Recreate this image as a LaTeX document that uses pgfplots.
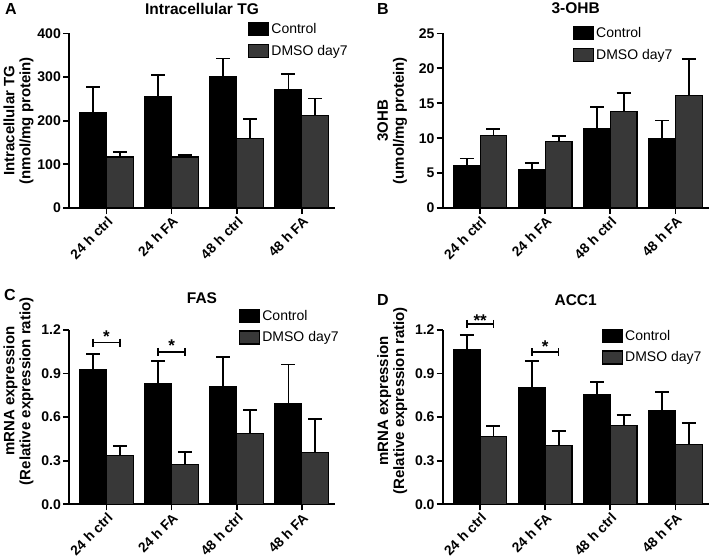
\documentclass[border=0pt]{standalone}
\usepackage{fontspec}
\setmainfont{Liberation Sans}
\usepackage{pgfplots}
\pgfplotsset{compat=1.18}
\definecolor{bargray}{HTML}{383838}

% bars sit at group index -/+ 0.205 (Control left, DMSO right)
\pgfplotsset{
  panel/.style={
    scale only axis, width=266pt, height=174.5pt,
    axis lines=left, axis line style={-, line width=1.8pt},
    clip=false,
    xmin=-0.575, xmax=3.51, ymin=0,
    xtick={0,1,2,3}, xticklabels={24 h ctrl,24 h FA,48 h ctrl,48 h FA},
    tick align=outside, major tick length=6pt,
    tick style={line width=1.8pt, black},
    xticklabel style={rotate=45, anchor=north east, inner sep=1pt, font=\fontsize{13.8}{15}\selectfont\bfseries},
    yticklabel style={font=\fontsize{14}{15}\selectfont\bfseries, inner sep=2pt},
    /pgf/number format/assume math mode=true,
    ylabel style={at={(axis description cs:-0.19,0.5)}, anchor=center, align=center,
      font=\fontsize{15}{16}\selectfont\bfseries},
    title style={at={(axis description cs:0.5,1)}, anchor=center, font=\fontsize{15.5}{17}\selectfont\bfseries},
    legend style={draw=none, fill=none, anchor=north west, inner sep=0pt, row sep=6pt,
      font=\fontsize{14}{16}\selectfont},
    legend cell align=left,
    legend image code/.code={\draw[##1,/tikz/.cd,bar shift=0pt] (0pt,-6.5pt) rectangle (20pt,6.5pt);},
  },
  ctrl/.style={ybar, bar width=0.41, bar shift=0pt, fill=black, draw=black, line width=1.2pt},
  dmso/.style={ybar, bar width=0.41, bar shift=0pt, fill=bargray, draw=black, line width=1.2pt},
  bracket/.style={black, line width=1.6pt, mark=|, mark size=4pt, forget plot},
}
\newcommand{\errs}{error bars/.cd, y dir=plus, y explicit,
  error bar style={line width=1.8pt, black, solid},
  error mark options={rotate=90, line width=1.8pt, black, mark size=7pt}}

\begin{document}
\begin{tikzpicture}
\useasboundingbox (0pt,0pt) rectangle (709pt,558pt);

% A
\begin{axis}[panel, at={(69pt,350pt)}, anchor=south west,
  ymax=400, ytick={0,100,200,300,400},
  ylabel={Intracellular TG\\(nmol/mg protein)},
  title={Intracellular TG}, title style={yshift=19pt},
  legend style={at={(axis description cs:0.673,1.07)}}]
\addplot[ctrl, error bars/.cd, y dir=plus, y explicit, error bar style={line width=1.8pt, black, solid}, error mark options={rotate=90, line width=1.8pt, black, mark size=7pt}]
  coordinates {(-0.205,218) +- (0,59.7) (0.795,254.8) +- (0,49.7) (1.795,300.7) +- (0,42.1) (2.795,272.4) +- (0,35.2)};
\addlegendentry{Control}
\addplot[dmso, error bars/.cd, y dir=plus, y explicit, error bar style={line width=1.8pt, black, solid}, error mark options={rotate=90, line width=1.8pt, black, mark size=7pt}]
  coordinates {(0.205,117) +- (0,11.5) (1.205,117) +- (0,4) (2.205,158.4) +- (0,45.1) (3.205,212.7) +- (0,38.3)};
\addlegendentry{DMSO day7}
\end{axis}

% B
\begin{axis}[panel, at={(442.7pt,350pt)}, anchor=south west,
  ymax=25, ytick={0,5,10,15,20,25},
  ylabel={3OHB\\(umol/mg protein)},
  title={3-OHB}, title style={yshift=19pt},
  legend style={at={(axis description cs:0.489,1.048)}}]
\addplot[ctrl, error bars/.cd, y dir=plus, y explicit, error bar style={line width=1.8pt, black, solid}, error mark options={rotate=90, line width=1.8pt, black, mark size=7pt}]
  coordinates {(-0.205,6.12) +- (0,0.96) (0.795,5.5) +- (0,0.96) (1.795,11.43) +- (0,3.02) (2.795,9.95) +- (0,2.59)};
\addlegendentry{Control}
\addplot[dmso, error bars/.cd, y dir=plus, y explicit, error bar style={line width=1.8pt, black, solid}, error mark options={rotate=90, line width=1.8pt, black, mark size=7pt}]
  coordinates {(0.205,10.33) +- (0,0.96) (1.205,9.57) +- (0,0.72) (2.205,13.88) +- (0,2.58) (3.205,16.08) +- (0,5.26)};
\addlegendentry{DMSO day7}
\end{axis}

% C
\begin{axis}[panel, at={(69pt,53.7pt)}, anchor=south west,
  ymax=1.2, ytick={0,0.3,0.6,0.9,1.2},
  yticklabel style={/pgf/number format/.cd, fixed, fixed zerofill, precision=1},
  ylabel={mRNA expression\\(Relative expression ratio)},
  ylabel style={at={(axis description cs:-0.19,0.648)}},
  title={FAS}, title style={yshift=26pt},
  legend style={at={(axis description cs:0.639,1.126)}}]
\addplot[ctrl, error bars/.cd, y dir=plus, y explicit, error bar style={line width=1.8pt, black, solid}, error mark options={rotate=90, line width=1.8pt, black, mark size=7pt}]
  coordinates {(-0.205,0.924) +- (0,0.108) (0.795,0.828) +- (0,0.156) (1.795,0.810) +- (0,0.201) (2.795,0.695) +- (0,0.266)};
\addlegendentry{Control}
\addplot[dmso, error bars/.cd, y dir=plus, y explicit, error bar style={line width=1.8pt, black, solid}, error mark options={rotate=90, line width=1.8pt, black, mark size=7pt}]
  coordinates {(0.205,0.335) +- (0,0.066) (1.205,0.273) +- (0,0.087) (2.205,0.489) +- (0,0.160) (3.205,0.356) +- (0,0.229)};
\addlegendentry{DMSO day7}
\addplot[bracket] coordinates {(-0.205,1.112) (0.205,1.112)}
  node[pos=0.5, anchor=base, yshift=0pt, font=\fontsize{17}{17}\selectfont\bfseries] {*};
\addplot[bracket] coordinates {(0.795,1.048) (1.205,1.048)}
  node[pos=0.5, anchor=base, yshift=0pt, font=\fontsize{17}{17}\selectfont\bfseries] {*};
\end{axis}

% D
\begin{axis}[panel, at={(442.7pt,53.7pt)}, anchor=south west,
  ymax=1.2, ytick={0,0.3,0.6,0.9,1.2},
  yticklabel style={/pgf/number format/.cd, fixed, fixed zerofill, precision=1},
  ylabel={mRNA expression\\(Relative expression ratio)},
  ylabel style={at={(axis description cs:-0.19,0.593)}},
  title={ACC1}, title style={yshift=24pt},
  legend style={at={(axis description cs:0.598,1.011)}}]
\addplot[ctrl, error bars/.cd, y dir=plus, y explicit, error bar style={line width=1.8pt, black, solid}, error mark options={rotate=90, line width=1.8pt, black, mark size=7pt}]
  coordinates {(-0.205,1.067) +- (0,0.096) (0.795,0.803) +- (0,0.181) (1.795,0.757) +- (0,0.082) (2.795,0.644) +- (0,0.129)};
\addlegendentry{Control}
\addplot[dmso, error bars/.cd, y dir=plus, y explicit, error bar style={line width=1.8pt, black, solid}, error mark options={rotate=90, line width=1.8pt, black, mark size=7pt}]
  coordinates {(0.205,0.468) +- (0,0.071) (1.205,0.406) +- (0,0.096) (2.205,0.544) +- (0,0.071) (3.205,0.411) +- (0,0.149)};
\addlegendentry{DMSO day7}
\addplot[bracket] coordinates {(-0.205,1.241) (0.205,1.241)}
  node[pos=0.5, anchor=base, yshift=-3pt, font=\fontsize{17}{17}\selectfont\bfseries] {**};
\addplot[bracket] coordinates {(0.795,1.046) (1.205,1.046)}
  node[pos=0.5, anchor=base, yshift=0pt, font=\fontsize{17}{17}\selectfont\bfseries] {*};
\end{axis}

% panel letters
\node[font=\fontsize{16}{16}\selectfont\bfseries] at (11pt,549.5pt) {A};
\node[font=\fontsize{16}{16}\selectfont\bfseries] at (383pt,549pt) {B};
\node[font=\fontsize{16}{16}\selectfont\bfseries] at (10pt,263pt) {C};
\node[font=\fontsize{16}{16}\selectfont\bfseries] at (383pt,258pt) {D};
\end{tikzpicture}
\end{document}
